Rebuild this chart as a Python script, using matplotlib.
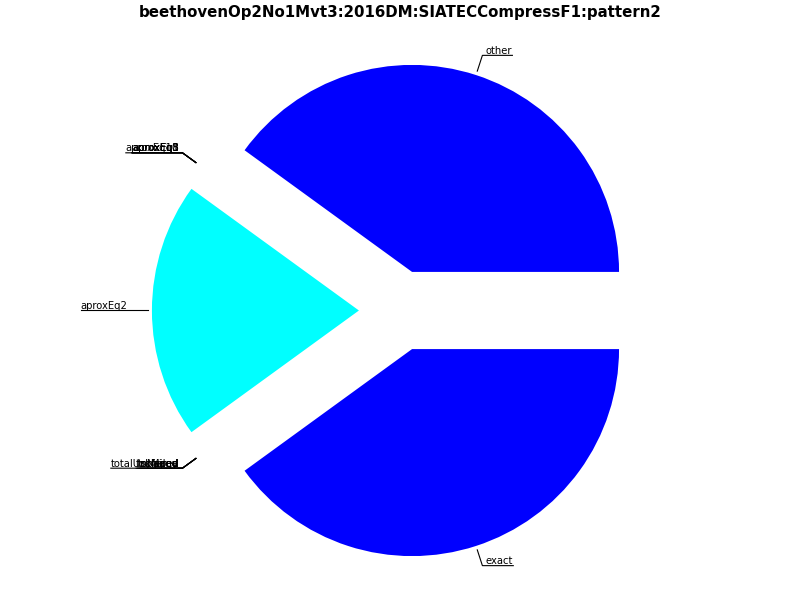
import numpy as np
import matplotlib
matplotlib.use("Agg")
import matplotlib.pyplot as plt

title = "beethovenOp2No1Mvt3:2016DM:SIATECCompressF1:pattern2"
labels = ["other", "aproxEq1", "aproxEq3", "aproxEq5", "aproxEq8", "aproxEq10",
          "aproxEq2", "totalUnpaired", "failed", "toMerge", "tooMany", "skipped", "exact"]
values = [2, 0, 0, 0, 0, 0, 1, 0, 0, 0, 0, 0, 2]
colors = ["#0000ff", "#00ffff", "#00ffff", "#00ffff", "#00ffff", "#00ffff",
          "#00ffff", "#0000ff", "#0000ff", "#0000ff", "#0000ff", "#0000ff", "#0000ff"]
explode_amt = 0.196

W, H = 800, 600
PPU = 207.0          # pixels per data unit
cx_px, cy_px = 399.5, 310.5

fig = plt.figure(figsize=(8, 6), dpi=100)
ax = fig.add_axes([0, 0, 1, 1])
ax.pie(values, explode=[explode_amt] * len(values), colors=colors,
       startangle=0, counterclock=True, radius=1.0,
       wedgeprops=dict(linewidth=0))
ax.set_aspect("auto")
ax.set_xlim(-cx_px / PPU, (W - cx_px) / PPU)
ax.set_ylim(-(H - cy_px) / PPU, cy_px / PPU)
ax.axis("off")

fig.text(0.5, 1 - 12.5 / H, title, ha="center", va="center",
         fontsize=10.8, fontweight="bold")

total = float(sum(values))
cum = np.concatenate([[0], np.cumsum(values)]) / total * 360.0
pad = 3.5 / PPU
r_pt, r_corner = 1.02, 1.1

fig.canvas.draw()
renderer = fig.canvas.get_renderer()
inv = ax.transData.inverted()

for lab, a0, a1 in zip(labels, cum[:-1], cum[1:]):
    ang = np.deg2rad((a0 + a1) / 2.0)
    ux, uy = np.cos(ang), np.sin(ang)
    ox, oy = explode_amt * ux, explode_amt * uy
    px, py = ox + r_pt * ux, oy + r_pt * uy
    qx, qy = ox + r_corner * ux, oy + r_corner * uy
    side = 1 if ux >= 0 else -1
    tx = qx + side * pad
    t = ax.text(tx, qy + 1.5 / PPU, lab, ha="left" if side > 0 else "right",
                va="baseline", fontsize=7.2, color="black")
    bb = t.get_window_extent(renderer=renderer)
    (x0, _), (x1, _) = inv.transform([[bb.x0, 0], [bb.x1, 0]])
    end = x1 if side > 0 else x0
    ax.plot([px, qx, end], [py, qy, qy], color="black", linewidth=0.8,
            solid_joinstyle="miter")

fig.savefig("out.png", dpi=100)
